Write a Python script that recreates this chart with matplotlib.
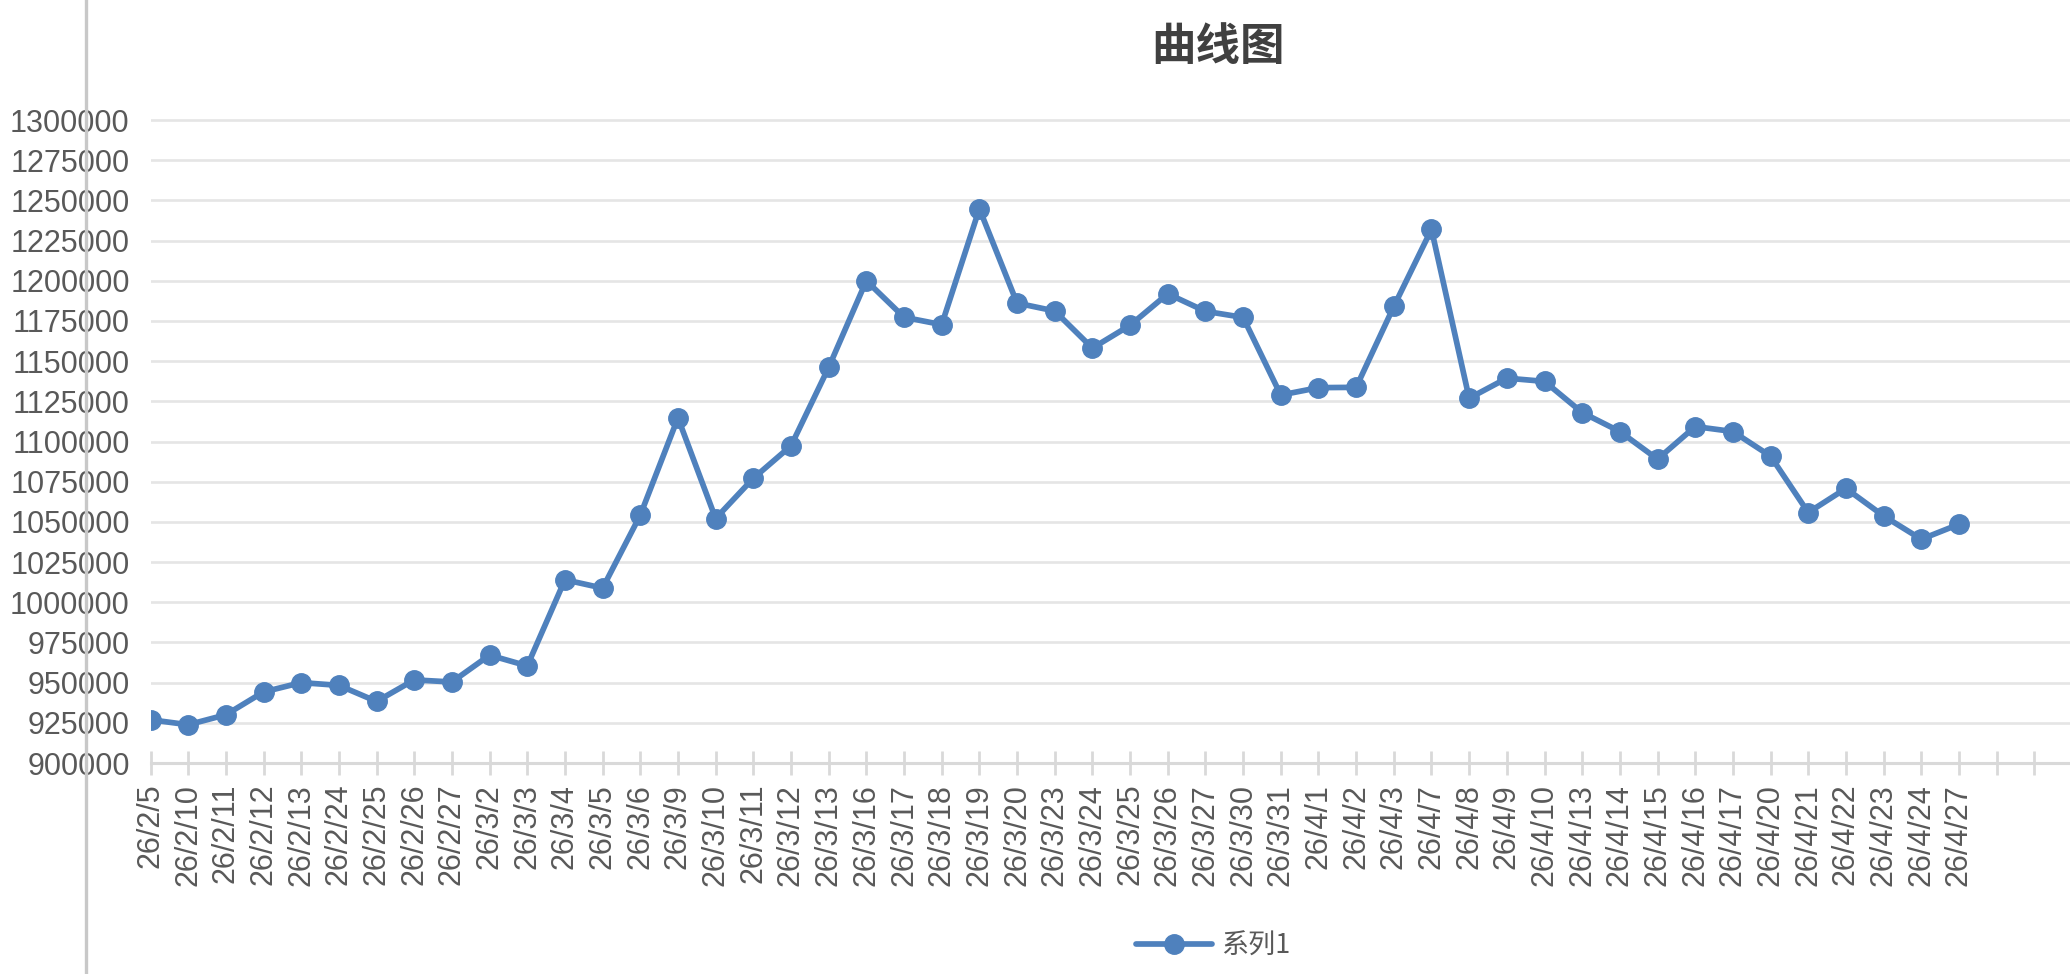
import matplotlib
matplotlib.use('Agg')
import matplotlib.pyplot as plt
from matplotlib.lines import Line2D

plt.rcParams['font.family'] = ['Liberation Sans', 'Noto Sans CJK SC', 'DejaVu Sans']

# Data
dates = ['26/2/5', '26/2/10', '26/2/11', '26/2/12', '26/2/13', '26/2/24', '26/2/25',
         '26/2/26', '26/2/27', '26/3/2', '26/3/3', '26/3/4', '26/3/5', '26/3/6',
         '26/3/9', '26/3/10', '26/3/11', '26/3/12', '26/3/13', '26/3/16', '26/3/17',
         '26/3/18', '26/3/19', '26/3/20', '26/3/23', '26/3/24', '26/3/25', '26/3/26',
         '26/3/27', '26/3/30', '26/3/31', '26/4/1', '26/4/2', '26/4/3', '26/4/7',
         '26/4/8', '26/4/9', '26/4/10', '26/4/13', '26/4/14', '26/4/15', '26/4/16',
         '26/4/17', '26/4/20', '26/4/21', '26/4/22', '26/4/23', '26/4/24', '26/4/27']
values = [926900, 923800, 930000, 944200, 950000, 948300, 938300, 951700, 950400,
          967100, 960400, 1014000, 1008800, 1054200, 1114700, 1052100, 1077100,
          1097300, 1146100, 1200000, 1177300, 1172700, 1244800, 1186100, 1181200,
          1158100, 1172300, 1191900, 1181000, 1177200, 1128900, 1133500, 1133700,
          1184000, 1232000, 1126900, 1139400, 1137400, 1118000, 1106200, 1089000,
          1109300, 1106200, 1090900, 1055800, 1070800, 1053700, 1039200, 1048500]
extra_ticks = 2  # two empty category slots after the last date
y_ticks = list(range(900000, 1300001, 25000))
series_name = '系列1'
title = '曲线图'

W, H = 2070, 974
fig = plt.figure(figsize=(W / 100, H / 100), dpi=100)
fig.patch.set_facecolor('white')

# axes placed in pixel terms
left_px, right_px, bottom_px, top_px = 150.5, 2070, 763, 118.4
ax = fig.add_axes([left_px / W, 1 - bottom_px / H,
                   (right_px - left_px) / W, (bottom_px - top_px) / H])

blue = '#4F81BD'
grid_c = '#e5e5e5'
axis_c = '#d9d9d9'
text_c = '#595959'

x = list(range(len(dates)))
line, = ax.plot(x, values, color=blue, linewidth=4.1, marker='o', markersize=14,
                solid_joinstyle='round', solid_capstyle='round', label=series_name)

n_ticks = len(dates) + extra_ticks
ax.set_xlim(0, n_ticks - 1 + (2070 - 2034.3) / 37.68)
ax.set_ylim(900000, 1301000)

ax.set_xticks(range(n_ticks))
ax.set_xticklabels(dates + [''] * extra_ticks, rotation=90, fontsize=22, color=text_c)
ax.set_yticks(y_ticks)
ax.set_yticklabels([str(v) for v in y_ticks], fontsize=22, color=text_c)

ax.tick_params(axis='x', direction='inout', length=17, width=2, color=axis_c, pad=6.5)
ax.tick_params(axis='y', length=0, pad=15)

ax.yaxis.grid(True, color=grid_c, linewidth=1.9)
ax.set_axisbelow(True)

for s in ['top', 'right', 'left']:
    ax.spines[s].set_visible(False)
ax.spines['bottom'].set_color(axis_c)
ax.spines['bottom'].set_linewidth(2.2)

# title
fig.text(1218 / W, 1 - 47 / H, title, ha='center', va='center', fontsize=32,
         fontweight='bold', color='#404040', family=['Noto Sans CJK SC', 'DejaVu Sans'])

# legend at bottom
leg = fig.legend(handles=[line], loc='center', bbox_to_anchor=(1213 / W, 1 - 946 / H),
                 frameon=False, handlelength=2.8, handletextpad=0.35, borderpad=0,
                 prop={'family': ['Noto Sans CJK SC', 'DejaVu Sans'], 'size': 19.5})
for t in leg.get_texts():
    t.set_color(text_c)

# thin grey vertical line at the left of the screenshot
fig.add_artist(Line2D([86 / W, 86 / W], [0, 1], transform=fig.transFigure,
                      color='#c8c8c8', linewidth=2.4))

fig.savefig('out.png', dpi=100)
